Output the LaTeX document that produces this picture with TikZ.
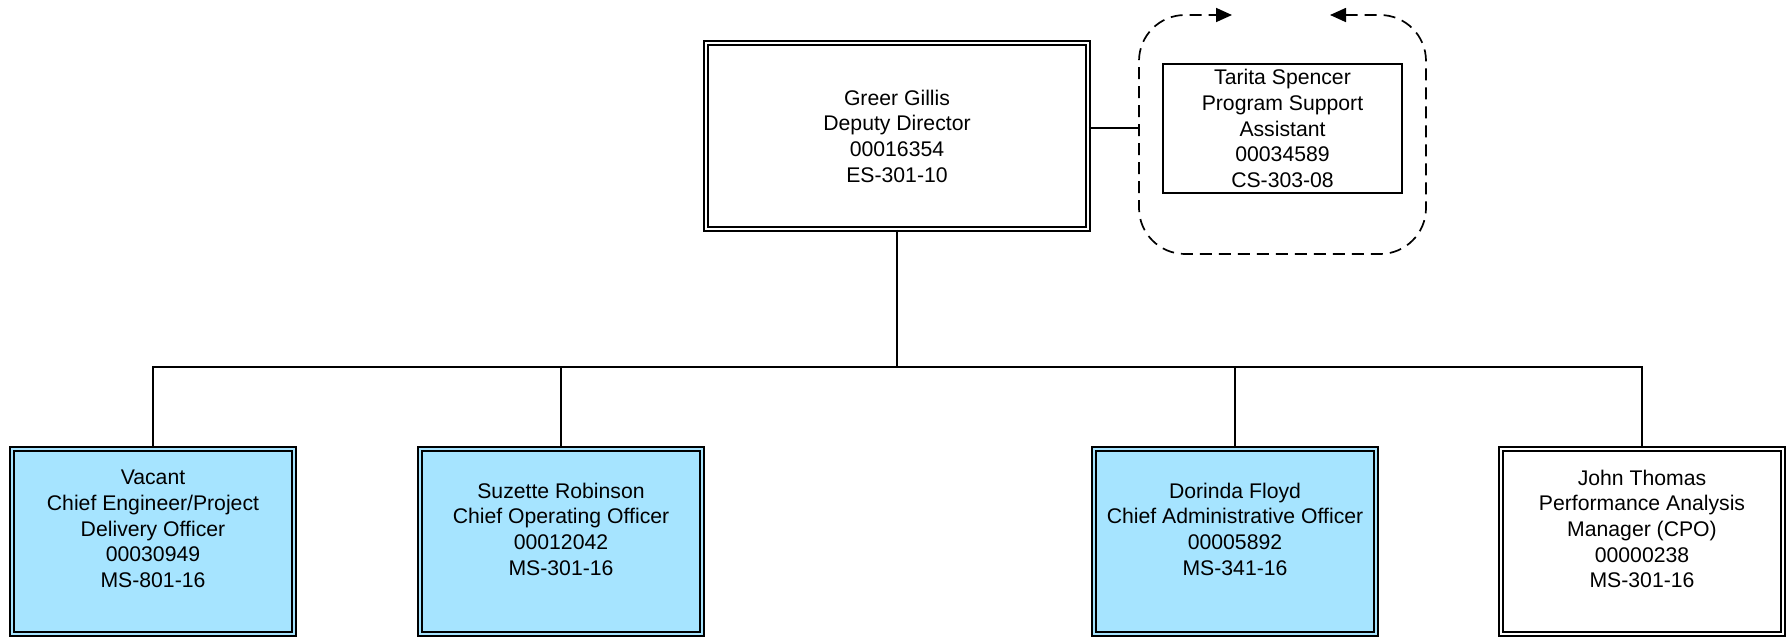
\documentclass[tikz,border=0pt]{standalone}
\usepackage{fontspec}
\setmainfont{Liberation Sans}
\usetikzlibrary{arrows.meta, positioning}
\definecolor{postblue}{RGB}{166, 228, 255}

\begin{document}
\begin{tikzpicture}[x=0.5pt, y=-0.5pt, line width=0.75pt,
  post/.style={draw, double, double distance=1.2pt, line width=0.9pt, inner sep=0pt,
    minimum width=141pt, minimum height=92.5pt},
  posttext/.style={align=center, inner sep=0pt, font=\fontsize{10.6}{12.85}\selectfont}]
  \useasboundingbox (0,0) rectangle (1789,638);

  % top of the chart
  \node[post, posttext, minimum width=191pt, minimum height=93pt] (dd) at (897,136)
    {Greer Gillis\\Deputy Director\\00016354\\ES-301-10};
  \node[draw, posttext, minimum width=119.5pt, minimum height=64.5pt] (psa) at (1282.5,128.5)
    {Tarita Spencer\\Program Support\\Assistant\\00034589\\CS-303-08};

  \coordinate (loopw) at (1139,128);
  \draw[line width=0.85pt, dash pattern=on 6pt off 3.5pt, rounded corners=23pt,
    {Triangle[length=8pt, width=7pt]}-{Triangle[length=8pt, width=7pt]}]
    (1330,15) -- (1426,15) -- (1426,254) -- (1139,254) -- (1139,15) -- (1232,15);
  \draw (dd.east |- loopw) -- (loopw);

  % direct reports
  \node[post, fill=postblue, double=postblue] (cengbox) at (153,541.5) {};
  \node[posttext] (ceng) at (153,529)
    {Vacant\\Chief Engineer/Project\\Delivery Officer\\00030949\\MS-801-16};
  \node[post, fill=postblue, double=postblue] (coobox) at (561,541.5) {};
  \node[posttext] (coo) at (561,529)
    {Suzette Robinson\\Chief Operating Officer\\00012042\\MS-301-16};
  \node[post, fill=postblue, double=postblue] (caobox) at (1235,541.5) {};
  \node[posttext] (cao) at (1235,529)
    {Dorinda Floyd\\Chief Administrative Officer\\00005892\\MS-341-16};
  \node[post] (paobox) at (1642,541.5) {};
  \node[posttext] (pao) at (1642,529)
    {John Thomas\\Performance Analysis\\Manager (CPO)\\00000238\\MS-301-16};

  \coordinate (bus) at (897,367);
  \draw (dd.south) -- (bus);
  \foreach \b in {cengbox, coobox, caobox, paobox}
    \draw (bus) -| (\b.north);
\end{tikzpicture}
\end{document}
